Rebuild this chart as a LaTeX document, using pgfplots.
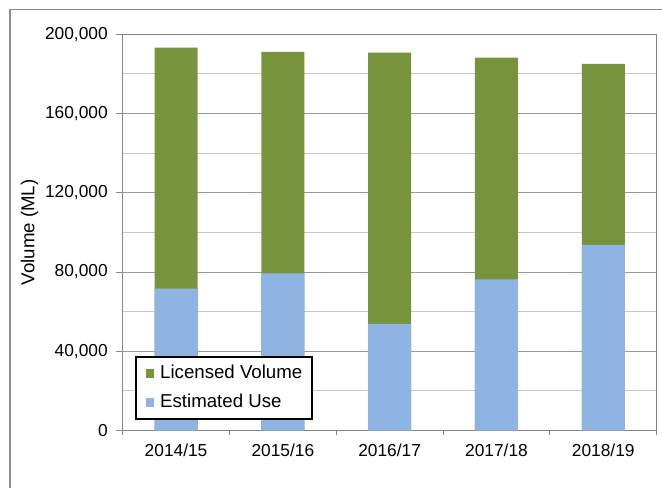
\documentclass[border=0pt]{standalone}
\usepackage{fontspec}
\setmainfont{Liberation Sans}
\usepackage{pgfplots}
\pgfplotsset{compat=1.18}
\definecolor{lvgreen}{HTML}{77933C}
\definecolor{eublue}{HTML}{8EB4E3}
\definecolor{axgray}{HTML}{868686}
\definecolor{majgrid}{HTML}{999999}
\definecolor{mingrid}{HTML}{C8C8C8}
\definecolor{framegray}{HTML}{8C8C8C}
\begin{document}
\begin{tikzpicture}
\useasboundingbox (0,0) rectangle (496.5pt,366pt);
\clip (0,0) rectangle (496.5pt,366pt);
\draw[color=framegray, line width=1pt] (7.5pt,-10pt) rectangle (520pt,358.9pt);
\begin{axis}[
  ybar, bar width=32.25pt,
  at={(92pt,43.1pt)}, anchor=south west,
  scale only axis, width=400.5pt, height=297.2pt,
  xmin=-0.5, xmax=4.5, ymin=0, ymax=200000,
  axis line style={axgray, line width=0.75pt},
  xtick={0,1,2,3,4},
  xticklabels={2014/15,2015/16,2016/17,2017/18,2018/19},
  minor xtick={-0.5,0.5,1.5,2.5,3.5,4.5},
  ytick={0,40000,80000,120000,160000,200000},
  minor ytick={20000,60000,100000,140000,180000},
  tick align=outside,
  tick pos=left,
  major tick length=5.2pt, minor tick length=3pt,
  major x tick style={draw=none},
  minor x tick style={axgray, line width=0.75pt},
  major y tick style={axgray, line width=0.75pt},
  minor y tick style={draw=none},
  ymajorgrids, yminorgrids,
  major grid style={majgrid, line width=0.75pt},
  minor grid style={mingrid, line width=0.75pt},
  scaled y ticks=false,
  /pgf/number format/fixed,
  /pgf/number format/1000 sep={,},
  /pgf/number format/assume math mode=true,
  tick label style={font=\fontsize{13}{15}\selectfont},
  yticklabel style={xshift=-2.5pt},
  xticklabel style={yshift=-1.2pt},
  ylabel={Volume (ML)},
  ylabel style={font=\fontsize{14}{16}\selectfont, at={([xshift=-66.2pt]axis description cs:0,0.5)}, anchor=base},
  legend cell align=left,
  legend style={at={(axis description cs:0.0225,0.0265)}, anchor=south west, draw=black, line width=1.4pt, fill=white, inner xsep=7.5pt, inner ysep=6pt, row sep=9pt, column sep=4.5pt, font=\fontsize{14}{16}\selectfont, nodes={inner sep=0pt, text height=10pt, text depth=2.7pt}},
  legend image code/.code={\path[#1, draw=none] (0pt,-3.2pt) rectangle (6.4pt,3.2pt);},
]
\addplot[fill=lvgreen, draw=none, bar shift=0pt] coordinates {(0,193200) (1,191100) (2,190700) (3,188200) (4,185100)};
\addlegendentry{Licensed Volume}
\addplot[fill=eublue, draw=none, bar shift=0pt] coordinates {(0,71600) (1,79300) (2,53800) (3,76300) (4,93700)};
\addlegendentry{Estimated Use}
\end{axis}
\end{tikzpicture}
\end{document}
